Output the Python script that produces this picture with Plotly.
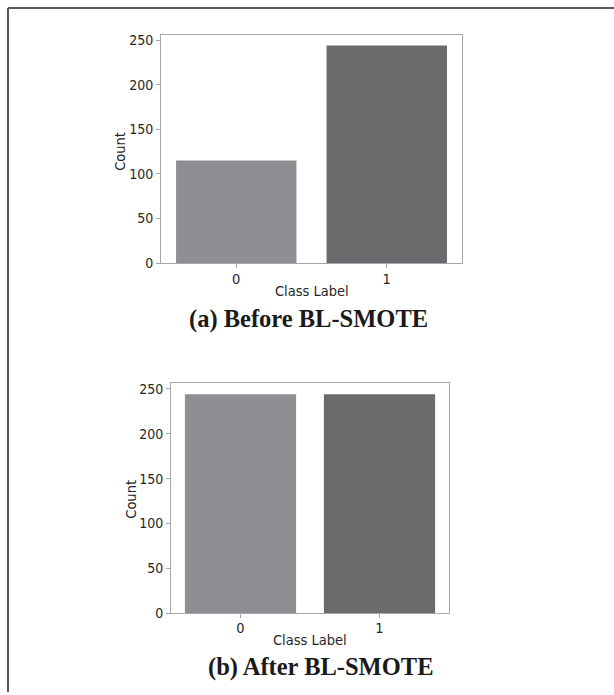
import plotly.graph_objects as go

W, H = 614, 695

classes = [0, 1]
class_labels = ["0", "1"]
before_counts = [115, 244]
after_counts = [244, 244]
bar_colors = ["#8e8f93", "#6b6b6d"]
y_ticks = [0, 50, 100, 150, 200, 250]
captions = ["(a) Before BL-SMOTE", "(b) After BL-SMOTE"]

AX = "#a7a7ab"
TXT = "#262626"
FONT = "DejaVu Sans Condensed, DejaVu Sans"


def px(x):
    return x / W


def py(y):
    return 1 - y / H


fig = go.Figure()
fig.add_trace(go.Bar(x=classes, y=before_counts, marker=dict(color=bar_colors, line=dict(width=0)),
                     width=0.8, xaxis="x", yaxis="y", showlegend=False))
fig.add_trace(go.Bar(x=classes, y=after_counts, marker=dict(color=bar_colors, line=dict(width=0)),
                     width=0.8, xaxis="x2", yaxis="y2", showlegend=False))

ymax = max(before_counts + after_counts) * 1.05

common_x = dict(range=[-0.5, 1.5], tickvals=classes, ticktext=class_labels, showline=True, mirror=True,
                linecolor=AX, linewidth=1, ticks="outside", ticklen=4, tickcolor=AX, showgrid=False,
                zeroline=False, tickfont=dict(family=FONT, size=14.5, color=TXT), fixedrange=True,
                ticklabelstandoff=-2)
common_y = dict(range=[0, ymax], tickvals=y_ticks, showline=True, mirror=True, linecolor=AX, linewidth=1,
                ticks="outside", ticklen=4, tickcolor=AX, showgrid=False, zeroline=False,
                tickfont=dict(family=FONT, size=14, color=TXT), fixedrange=True)

fig.update_layout(
    width=W, height=H, margin=dict(l=0, r=0, t=0, b=0),
    paper_bgcolor="white", plot_bgcolor="white", bargap=0.2,
    xaxis=dict(common_x, domain=[px(161), px(462)], anchor="y"),
    yaxis=dict(common_y, domain=[py(265), py(33)], anchor="x"),
    xaxis2=dict(common_x, domain=[px(171), px(449)], anchor="y2"),
    yaxis2=dict(common_y, domain=[py(620), py(387)], anchor="x2"),
)

annos = []
lab = dict(family=FONT, size=14.5, color=TXT)
annos.append(dict(text="Count", x=px(120), y=py(152), textangle=-90, font=lab))
annos.append(dict(text="Count", x=px(131), y=py(505), textangle=-90, font=lab))
annos.append(dict(text="Class Label", x=px(311.5), y=py(293), font=lab))
annos.append(dict(text="Class Label", x=px(310), y=py(647), font=lab))
cap = dict(family="Liberation Serif", size=24.5, color="#1a1a1a")
annos.append(dict(text="<b>%s</b>" % captions[0], x=px(308.5), y=py(322), font=cap))
annos.append(dict(text="<b>%s</b>" % captions[1], x=px(320.5), y=py(675), font=cap))
for a in annos:
    a.update(xref="paper", yref="paper", showarrow=False, xanchor="center", yanchor="middle")
fig.update_layout(annotations=annos)

fig.update_layout(shapes=[
    dict(type="line", xref="paper", yref="paper", x0=px(8), x1=px(W + 5), y0=py(6), y1=py(6),
         line=dict(color="#5a5a5a", width=2)),
    dict(type="line", xref="paper", yref="paper", x0=px(8), x1=px(8), y0=py(6), y1=py(H + 5),
         line=dict(color="#5a5a5a", width=2)),
])

fig.write_html("out.html", config={"displayModeBar": False})
